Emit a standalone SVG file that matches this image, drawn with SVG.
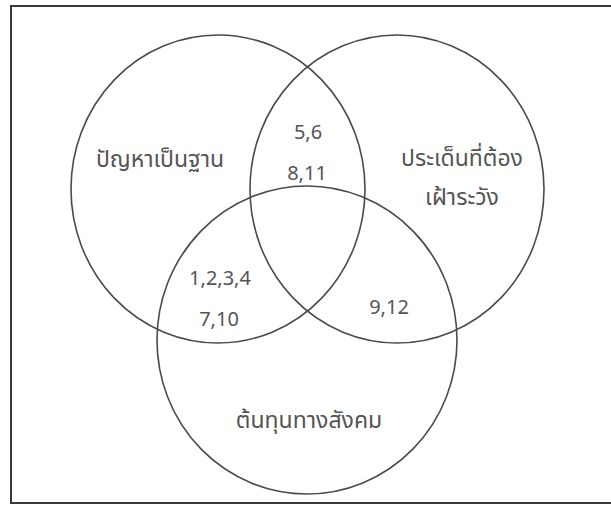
<svg xmlns="http://www.w3.org/2000/svg" width="611" height="506" viewBox="0 0 611 506">
<style>
.frame{fill:#fff;stroke:#3a3a3a;stroke-width:2}
.set{fill:none;stroke:#4a4a4a;stroke-width:1.6}
.lbl{font-family:"Noto Sans Thai","Noto Sans","DejaVu Sans",sans-serif;font-size:20px;fill:#555;text-anchor:middle}
.th{font-size:23px}
</style>
<rect width="611" height="506" fill="#fff"/>
<rect class="frame" x="11" y="6" width="610" height="497"/>
<g id="set-a">
<ellipse class="set" cx="218" cy="189" rx="147" ry="154"/>
<text class="lbl th" x="160" y="167">ปัญหาเป็นฐาน</text>
</g>
<g id="set-b">
<ellipse class="set" cx="397" cy="189" rx="147" ry="154"/>
<text class="lbl th" x="462" y="166">ประเด็นที่ต้อง</text>
<text class="lbl th" x="462" y="205">เฝ้าระวัง</text>
</g>
<g id="set-c">
<ellipse class="set" cx="307" cy="340" rx="150" ry="154"/>
<text class="lbl th" x="309" y="428">ต้นทุนทางสังคม</text>
</g>
<g id="region-ab">
<text class="lbl" x="308" y="139">5,6</text>
<text class="lbl" x="307" y="180">8,11</text>
</g>
<g id="region-ac">
<text class="lbl" x="220" y="285">1,2,3,4</text>
<text class="lbl" x="219" y="326">7,10</text>
</g>
<g id="region-bc">
<text class="lbl" x="389" y="314">9,12</text>
</g>
</svg>
